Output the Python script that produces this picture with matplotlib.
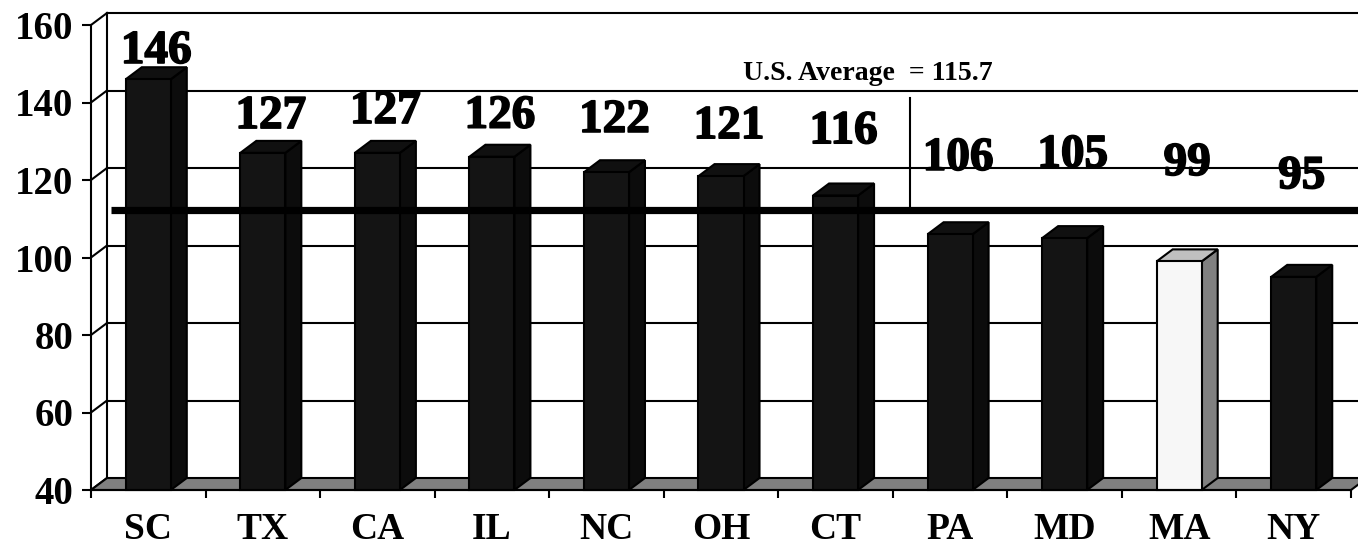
import matplotlib
matplotlib.use("Agg")
import matplotlib.pyplot as plt
import matplotlib.patheffects as pe
from matplotlib.patches import Polygon, Rectangle

# ------------------------------------------------------------------
# Data
# ------------------------------------------------------------------
states = ["SC", "TX", "CA", "IL", "NC", "OH", "CT", "PA", "MD", "MA", "NY"]
values = [146, 127, 127, 126, 122, 121, 116, 106, 105, 99, 95]
value_labels = ["146", "127", "127", "126", "122", "121", "116",
                "106", "105", "99", "95"]
# baseline of each value label (chart units, placed by hand in the original)
label_baseline = [150.2, 133.4, 134.7, 133.5, 132.4, 130.8, 129.5,
                  122.6, 123.4, 121.3, 117.9]
highlight = "MA"

avg_text = "U.S. Average  = 115.7"
avg_level_drawn = 112.3  # where the reference draws the line
y_ticks = [40, 60, 80, 100, 120, 140, 160]

# ------------------------------------------------------------------
# Figure / geometry
# ------------------------------------------------------------------
W, H = 1358, 553
fig = plt.figure(figsize=(W / 100, H / 100), dpi=100)
ax = fig.add_axes([91 / W, 63 / H, 1260 / W, 465 / H])
ax.set_xlim(-0.5, len(states) - 0.5)
ax.set_ylim(40, 160)

dx = 16 / 114.5      # depth offset in category units
dy = 12 / 3.875      # depth offset in value units
bar_w = 45 / 114.5
x_right = len(states) - 0.5
lw = 1.5
serif = "Liberation Serif"

# back wall grid + top edge
for t in y_ticks[1:]:
    ax.plot([-0.5 + dx, x_right + dx + 1], [t + dy, t + dy],
            color="black", lw=lw, clip_on=False, zorder=1)
# left wall edge and diagonals
ax.plot([-0.5 + dx, -0.5 + dx], [40 + dy, 160 + dy],
        color="black", lw=lw, clip_on=False, zorder=1)
for t in y_ticks:
    ax.plot([-0.5, -0.5 + dx], [t, t + dy],
            color="black", lw=lw, clip_on=False, zorder=1)

# floor
floor = Polygon([(-0.5, 40), (x_right, 40), (x_right + dx, 40 + dy),
                 (-0.5 + dx, 40 + dy)], closed=True,
                facecolor="#808080", edgecolor="black", lw=lw,
                clip_on=False, zorder=2)
ax.add_patch(floor)

# bars
for i, (st, v) in enumerate(zip(states, values)):
    if st == highlight:
        front_c, side_c, top_c = "#f7f7f7", "#808080", "#c0c0c0"
    else:
        front_c, side_c, top_c = "#141414", "#0c0c0c", "#101010"
    x0, x1 = i - bar_w / 2, i + bar_w / 2
    side = Polygon([(x1, 40), (x1 + dx, 40 + dy), (x1 + dx, v + dy), (x1, v)],
                   closed=True, facecolor=side_c, edgecolor="black", lw=lw,
                   clip_on=False, zorder=3)
    top = Polygon([(x0, v), (x1, v), (x1 + dx, v + dy), (x0 + dx, v + dy)],
                  closed=True, facecolor=top_c, edgecolor="black", lw=lw,
                  clip_on=False, zorder=3)
    front = Rectangle((x0, 40), bar_w, v - 40, facecolor=front_c,
                      edgecolor="black", lw=lw, clip_on=False, zorder=3)
    ax.add_patch(side)
    ax.add_patch(top)
    ax.add_patch(front)
    ax.text(i + dx / 2, label_baseline[i], value_labels[i],
            ha="center", va="baseline", fontsize=34, fontweight="bold",
            family=serif, zorder=6,
            path_effects=[pe.withStroke(linewidth=1.2, foreground="black")])

# average line + callout
ax.plot([-0.325, x_right + 1], [avg_level_drawn, avg_level_drawn],
        color="black", lw=5.2, clip_on=False, zorder=5,
        solid_capstyle="butt")
ax.plot([6.653, 6.653], [141.2, avg_level_drawn], color="black", lw=1.5,
        zorder=5)
ax.text(6.286, 147.6, avg_text, ha="center", va="center", fontsize=20,
        fontweight="bold", family=serif, zorder=6)

# axes styling
for s in ["top", "right"]:
    ax.spines[s].set_visible(False)
ax.spines["left"].set_linewidth(lw)
ax.spines["bottom"].set_linewidth(lw)
ax.spines["bottom"].set_zorder(4)

ax.set_yticks(y_ticks)
ax.set_yticklabels([str(t) for t in y_ticks])
ax.tick_params(axis="y", direction="out", length=6.5, width=lw, pad=6,
               labelsize=28)
for lab in ax.get_yticklabels():
    lab.set_fontfamily(serif)
    lab.set_fontweight("bold")

ax.set_xticks([i - 0.5 for i in range(len(states) + 1)])
ax.set_xticklabels([])
ax.set_xticks(range(len(states)), minor=True)
ax.set_xticklabels(states, minor=True)
ax.tick_params(axis="x", which="major", direction="out", length=6,
               width=lw)
ax.tick_params(axis="x", which="minor", length=0, pad=15.5, labelsize=27)
for lab in ax.get_xticklabels(minor=True):
    lab.set_fontfamily(serif)
    lab.set_fontweight("bold")

ax.patch.set_alpha(0)
fig.savefig("out.png", dpi=100)
